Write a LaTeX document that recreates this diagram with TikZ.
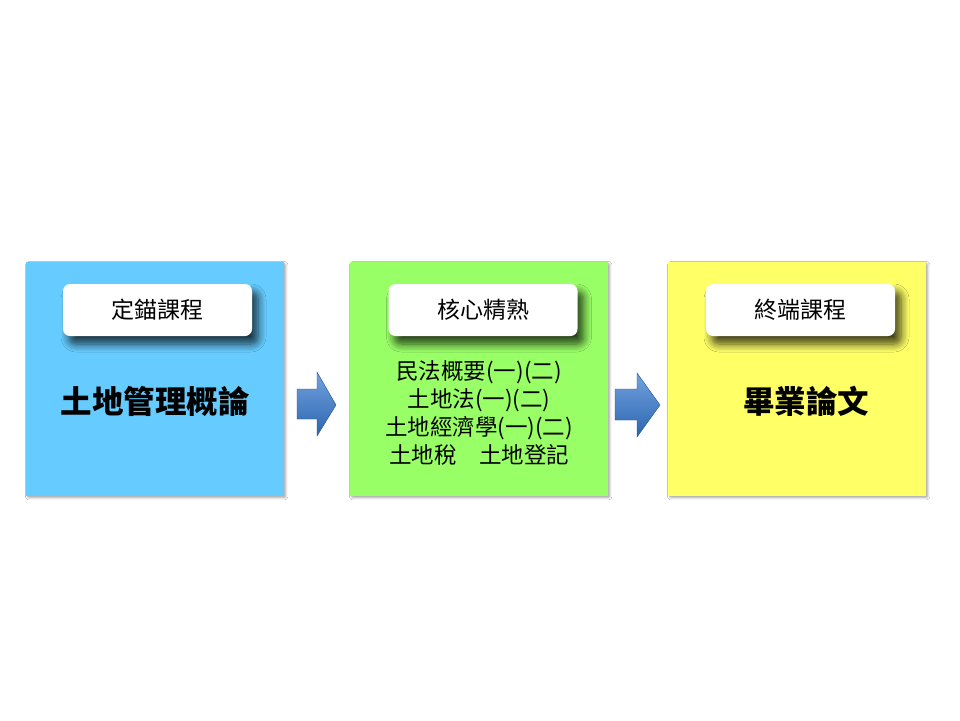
\documentclass[tikz,border=0pt]{standalone}
\usepackage{fontspec}
\setmainfont{Noto Sans CJK TC}
\usetikzlibrary{shadows.blur}
\definecolor{cblue}{HTML}{66CCFF}
\definecolor{cgreen}{HTML}{99FF66}
\definecolor{cyellow}{HTML}{FFFF66}
\definecolor{arrtop}{HTML}{6FA3E0}
\definecolor{arrbot}{HTML}{2E64AE}
\tikzset{
  panel/.style={anchor=north west, inner sep=0pt, minimum width=258pt, minimum height=234pt,
     blur shadow={shadow xshift=1.5pt, shadow yshift=-1.5pt, shadow blur steps=4, shadow blur extra rounding=1pt, shadow opacity=35}},
  pill/.style={fill=white, rounded corners=7pt, minimum width=189pt, minimum height=52pt, inner sep=0pt,
     font=\fontsize{23}{27}\selectfont,
     blur shadow={shadow xshift=6pt, shadow yshift=-8pt, shadow blur radius=8pt, shadow blur steps=8, shadow opacity=75}},
  bigtext/.style={font=\fontsize{31.5}{36}\selectfont\bfseries},
  bodytext/.style={font=\fontsize{22.5}{27.7}\selectfont, align=center},
  bluearrow/.style={top color=arrtop, bottom color=arrbot, draw=arrbot!80!black, line width=0.4pt}
}
\begin{document}
\begin{tikzpicture}[x=1pt,y=-1pt]
\useasboundingbox (0,0) rectangle (960,720);
\fill[white] (0,0) rectangle (960,720);
% panels
\node[panel, fill=cblue] (pA) at (26,262) {};
\node[panel, fill=cgreen] (pB) at (350,262) {};
\node[panel, fill=cyellow] (pC) at (668,262) {};
% pills
\node[pill] (tA) at (157.5,310) {定錨課程};
\node[pill] (tB) at (483,310) {核心精熟};
\node[pill] (tC) at (800.5,310) {終端課程};
% contents
\node[bigtext] (cA) at (155,401) {土地管理概論};
\node[bigtext] (cC) at (806,401) {畢業論文};
\node[bodytext] (cB) at (479,413) {民法概要(一)(二)\\土地法(一)(二)\\土地經濟學(一)(二)\\土地稅\quad 土地登記};
% arrows
\draw[bluearrow] (297,389) -- (317,389) -- (317,372) -- (336,405) -- (317,436) -- (317,419) -- (297,419) -- cycle;
\draw[bluearrow] (615,389) -- (637,389) -- (637,373) -- (660,405) -- (637,437) -- (637,420) -- (615,420) -- cycle;
\end{tikzpicture}
\end{document}
